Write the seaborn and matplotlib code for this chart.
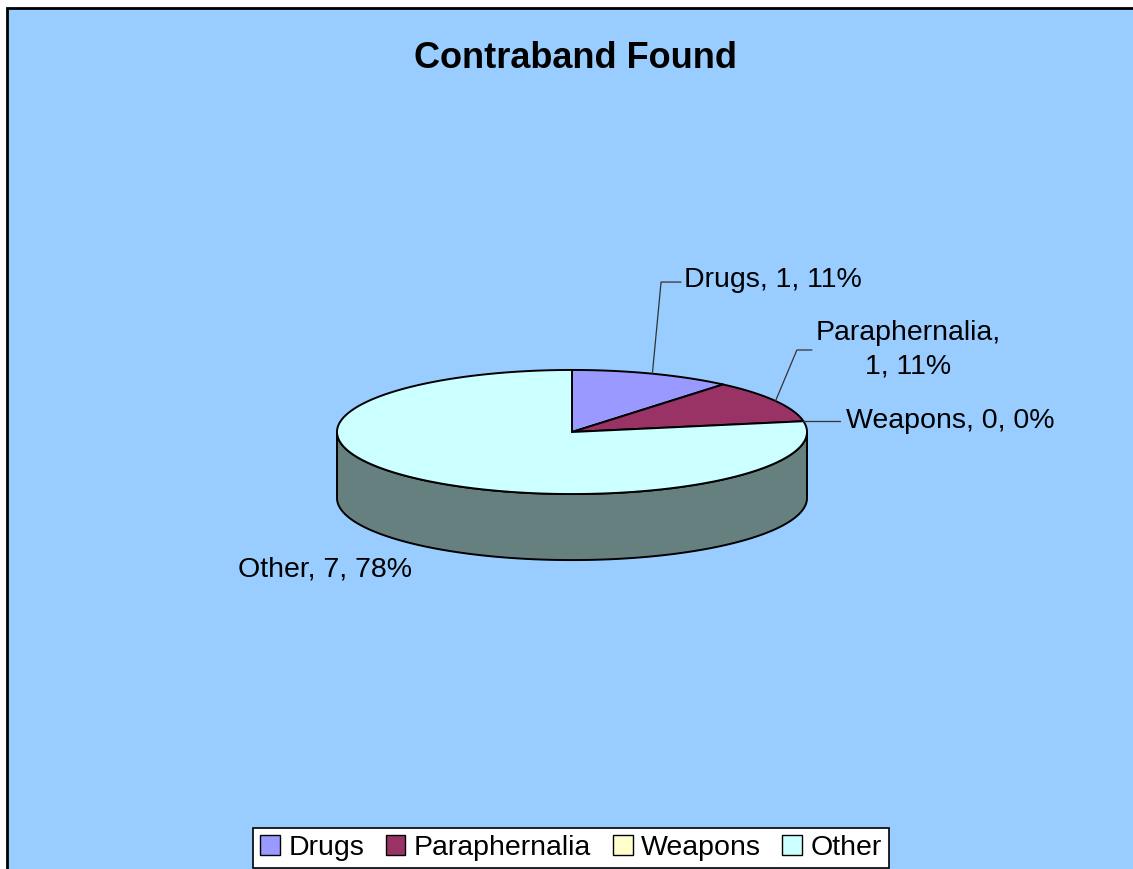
import numpy as np
import matplotlib
matplotlib.use("Agg")
import matplotlib.pyplot as plt
import matplotlib.patches as mpatches
import seaborn as sns

# ---- data ----
categories = ["Drugs", "Paraphernalia", "Weapons", "Other"]
values = [1, 1, 0, 7]
colors = ["#9999FF", "#993366", "#FFFFCC", "#CCFFFF"]
title = "Contraband Found"

sns.set_theme(style="white")
plt.rcParams["font.family"] = ["Liberation Sans", "DejaVu Sans"]
plt.rcParams["text.color"] = "black"

W, H = 1133, 869
fig = plt.figure(figsize=(W / 100, H / 100), dpi=100)
fig.patch.set_facecolor("white")

# chart area background with border
bg = mpatches.Rectangle((7 / W, -0.02), 1.2, 1 - 8 / H + 0.02, transform=fig.transFigure,
                        facecolor="#99CCFF", edgecolor="black", linewidth=2, zorder=-5)
fig.patches.append(bg)

# axes in units of pie radius, center at pixel (572, 432), 235 px per unit
cx, cy, R = 572, 432, 235
ax = fig.add_axes([0, 0, 1, 1])
ax.set_xlim(-cx / R, (W - cx) / R)
ax.set_ylim((cy - H) / R, cy / R)
ax.axis("off")
ax.patch.set_alpha(0)
ax.set_zorder(1)

k = 0.264    # vertical squash of the ellipse
d = 0.281    # depth of the pie
side_colors = {"#CCFFFF": "#668080"}


def darker(c, f=0.5):
    if c in side_colors:
        return side_colors[c]
    rgb = np.array(matplotlib.colors.to_rgb(c))
    return tuple(rgb * f)


total = sum(values)
fracs = [v / total for v in values]
# start at 90 degrees, clockwise
starts, ends = [], []
a = 90.0
for f in fracs:
    starts.append(a)
    a -= 360 * f
    ends.append(a)

# side walls (front half only)
for c, s, e in zip(colors, starts, ends):
    if s == e:
        continue
    lo, hi = e, s
    for off in (-720, -360, 0, 360):
        a0 = max(lo, 180 + off)
        a1 = min(hi, 360 + off)
        if a1 > a0:
            t = np.radians(np.linspace(a0, a1, 200))
            xs = np.cos(t)
            ys = k * np.sin(t)
            px = np.concatenate([xs, xs[::-1]])
            py = np.concatenate([ys, ys[::-1] - d])
            ax.add_patch(mpatches.Polygon(np.column_stack([px, py]), closed=True,
                                          facecolor=darker(c), edgecolor="black",
                                          linewidth=1.4, zorder=2))

# top faces
for c, s, e in zip(colors, starts, ends):
    if s == e:
        continue
    t = np.radians(np.linspace(s, e, 300))
    px = np.concatenate([[0], np.cos(t), [0]])
    py = np.concatenate([[0], k * np.sin(t), [0]])
    ax.add_patch(mpatches.Polygon(np.column_stack([px, py]), closed=True,
                                  facecolor=c, edgecolor="black", linewidth=1.4, zorder=3))

# labels
labels = [f"{n}, {v}, {round(f * 100):.0f}%" for n, v, f in zip(categories, values, fracs)]
mids = [np.radians((s + e) / 2) for s, e in zip(starts, ends)]
lc = "#333333"
fs = 20.5

# Drugs
m = mids[0]
p0 = (np.cos(m), k * np.sin(m))
ax.plot([p0[0], 0.379, 0.464], [p0[1], 0.638, 0.638], color=lc, lw=0.9, zorder=4)
ax.text(0.477, 0.647, labels[0], ha="left", va="center", fontsize=fs, color="black")

# Paraphernalia
m = mids[1]
p0 = (np.cos(m), k * np.sin(m))
ax.plot([p0[0], 0.957, 1.021], [p0[1], 0.349, 0.349], color=lc, lw=0.9, zorder=4)
ax.text(1.430, 0.349, labels[1].replace(", ", ",\n", 1), ha="center", va="center",
        fontsize=fs, color="black", linespacing=1.35)

# Weapons
m = mids[2]
p0 = (np.cos(m), k * np.sin(m))
ax.plot([p0[0], 1.140], [p0[1], p0[1]], color=lc, lw=0.9, zorder=4)
ax.text(1.166, p0[1], labels[2], ha="left", va="center", fontsize=fs, color="black")

# Other
ax.text(-0.681, -0.587, labels[3], ha="right", va="center", fontsize=fs, color="black")

# title
fig.text(576 / W, 1 - 59 / H, title, ha="center", va="center", fontsize=26,
         fontweight="bold", color="black")

# legend
handles = [mpatches.Patch(facecolor=c, edgecolor="black", linewidth=1.0) for c in colors]
leg = fig.legend(handles, categories, loc="lower center", bbox_to_anchor=(571 / W, 1 / H),
                 ncol=4, fontsize=20.5, frameon=True, fancybox=False, framealpha=1,
                 facecolor="white", edgecolor="black", handlelength=0.7, handleheight=0.7,
                 handletextpad=0.3, columnspacing=0.75, borderpad=0.25, borderaxespad=0,
                 labelcolor="black")
leg.get_frame().set_linewidth(1.2)
leg.set_zorder(5)

fig.savefig("out.png", dpi=100, facecolor=fig.get_facecolor())
